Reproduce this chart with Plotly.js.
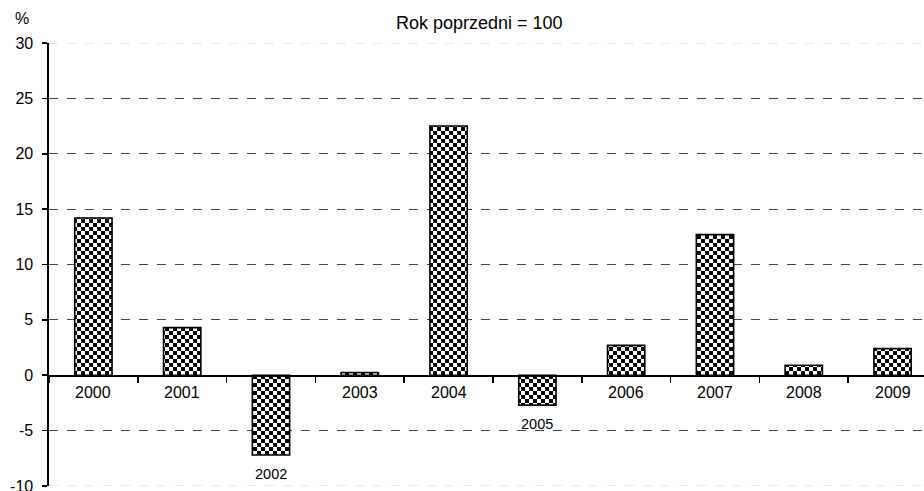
<!DOCTYPE html>
<html>
<head>
<meta charset="utf-8">
<script src="https://cdn.plot.ly/plotly-3.0.1.min.js"></script>
<style>html,body{margin:0;padding:0;background:#fff;}#chart{width:924px;height:491px;}</style>
</head>
<body>
<div id="chart"></div>
<script>
const years = ["2000","2001","2002","2003","2004","2005","2006","2007","2008","2009"];
const values = [14.2, 4.3, -7.2, 0.25, 22.5, -2.7, 2.7, 12.7, 0.9, 2.4];
const yTicks = [-10, -5, 0, 5, 10, 15, 20, 25, 30];
const titleText = "Rok poprzedni = 100";
const unitText = "%";

const FONT = "Liberation Sans, Arial, sans-serif";

const trace = {
  type: "bar",
  x: years,
  y: values,
  width: 0.42,
  marker: { color: "#000", line: { color: "#000", width: 1.6 } },
  hoverinfo: "none"
};

const W = 924, H = 491, ML = 49, MR = 0, MT = 43, MB = 5;
const pw = W - ML - MR, ph = H - MT - MB;

const annotations = years.map((yr, i) => ({
  x: i, y: Math.min(0, values[i]), xref: "x", yref: "y",
  text: yr, showarrow: false, yanchor: "top", xanchor: "center",
  yshift: values[i] < 0 ? -9 : -7,
  font: { family: FONT, size: values[i] < 0 ? 14.5 : 16, color: "#000" }
}));
annotations.push({
  x: (22 - ML) / pw, y: (H - MB - 19) / ph, xref: "paper", yref: "paper",
  text: unitText, showarrow: false, xanchor: "center", yanchor: "middle",
  font: { family: FONT, size: 16, color: "#000" }
});
annotations.push({
  x: (479 - ML) / pw, y: (H - MB - 23) / ph, xref: "paper", yref: "paper",
  text: titleText, showarrow: false, xanchor: "center", yanchor: "middle",
  font: { family: FONT, size: 18, color: "#000" }
});

const yMin = -10, yMax = 30;
const edgeLines = [yMin, yMax].map(v => ({
  type: "line", xref: "paper", yref: "y", x0: 0, x1: 1, y0: v, y1: v,
  line: { color: "#d0d0d0", width: 1, dash: "dash" }, layer: "below"
}));

const layout = {
  width: W, height: H,
  margin: { l: ML, r: MR, t: MT, b: MB, pad: 0 },
  paper_bgcolor: "#fff", plot_bgcolor: "#fff",
  showlegend: false,
  xaxis: {
    type: "category",
    range: [-0.5, 9.354],
    anchor: "free",
    position: (0 - yMin) / (yMax - yMin),
    showline: true, linecolor: "#000", linewidth: 1.6,
    ticks: "outside", ticklen: 6, tickwidth: 1.6, tickcolor: "#000",
    tickson: "boundaries",
    showticklabels: false,
    showgrid: false, zeroline: false,
    fixedrange: true
  },
  yaxis: {
    range: [yMin, yMax],
    tickvals: yTicks,
    ticktext: yTicks.map(String),
    showline: true, linecolor: "#000", linewidth: 1.6,
    ticks: "outside", ticklen: 5, tickwidth: 1.6, tickcolor: "#000",
    ticklabelstandoff: 6,
    ticklabeloverflow: "allow",
    tickfont: { family: FONT, size: 16, color: "#000" },
    showgrid: true, gridcolor: "#444", gridwidth: 1, griddash: "dash",
    zeroline: false,
    fixedrange: true
  },
  shapes: edgeLines,
  annotations: annotations
};

Plotly.newPlot("chart", [trace], layout, { staticPlot: true }).then(() => {
  const svg = document.querySelector("#chart .main-svg");
  const ns = "http://www.w3.org/2000/svg";
  let defs = svg.querySelector("defs");
  if (!defs) { defs = document.createElementNS(ns, "defs"); svg.insertBefore(defs, svg.firstChild); }
  const pat = document.createElementNS(ns, "pattern");
  pat.setAttribute("id", "chk");
  pat.setAttribute("patternUnits", "userSpaceOnUse");
  pat.setAttribute("width", "8");
  pat.setAttribute("height", "8");
  const mk = (x, y, w, h, c) => {
    const r = document.createElementNS(ns, "rect");
    r.setAttribute("x", x); r.setAttribute("y", y);
    r.setAttribute("width", w); r.setAttribute("height", h);
    r.setAttribute("fill", c);
    pat.appendChild(r);
  };
  mk(0, 0, 8, 8, "#fff");
  mk(0, 0, 4, 4, "#000");
  mk(4, 4, 4, 4, "#000");
  defs.appendChild(pat);
  document.querySelectorAll("#chart .bars .point path").forEach(p => {
    p.style.fill = "url(#chk)";
  });
});
</script>
</body>
</html>
